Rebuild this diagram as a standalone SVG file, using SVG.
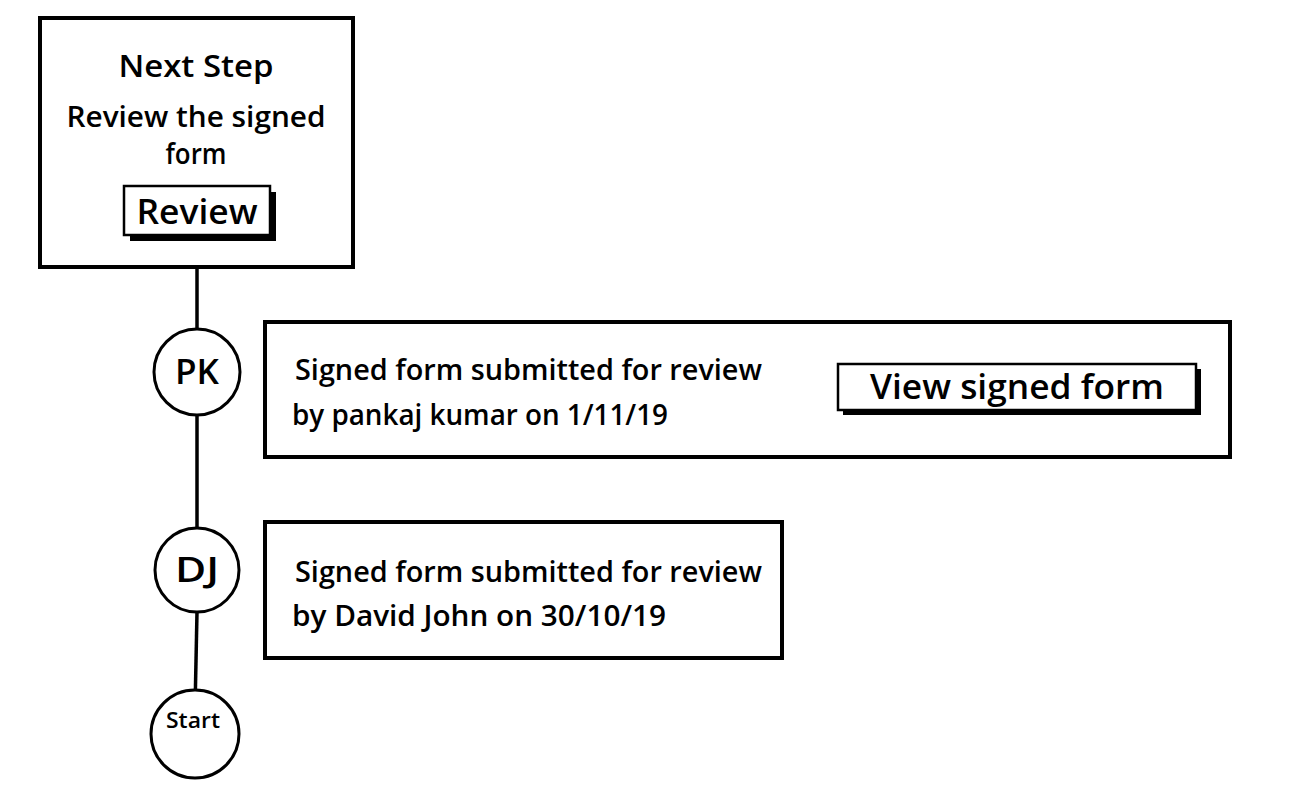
<svg xmlns="http://www.w3.org/2000/svg" width="1296" height="810" viewBox="0 0 1296 810">
<style>
.box{fill:#fff;stroke:#000;stroke-width:4}
.btn{fill:#fff;stroke:#000;stroke-width:2.5}
.sh{fill:#000}
.ln{stroke:#000;stroke-width:3.5;fill:none}
.c{fill:#fff;stroke:#000;stroke-width:3}
text{font-family:"Open Sans","Liberation Sans",sans-serif;fill:#000;font-weight:600}
.m{text-anchor:middle}
</style>
<rect width="1296" height="810" fill="#fff"/>
<g id="connectors">
<line class="ln" x1="197" y1="267" x2="197" y2="330"/>
<line class="ln" x1="197" y1="414" x2="197" y2="528"/>
<line class="ln" x1="197" y1="612" x2="195" y2="710"/>
</g>
<g id="next-step">
<rect class="box" x="40" y="18" width="313" height="249"/>
<text class="m" x="196" y="77" font-size="31" textLength="155" lengthAdjust="spacingAndGlyphs">Next Step</text>
<text class="m" x="196" y="127" font-size="28" textLength="259" lengthAdjust="spacingAndGlyphs">Review the signed</text>
<text class="m" x="196" y="164" font-size="28" textLength="61" lengthAdjust="spacingAndGlyphs">form</text>
<g id="review-btn">
<rect class="sh" x="130" y="192" width="146" height="49"/>
<rect class="btn" x="124" y="186" width="146" height="49"/>
<text class="m" x="197" y="224" font-size="34" textLength="121" lengthAdjust="spacingAndGlyphs">Review</text>
</g>
</g>
<g id="pk">
<circle class="c" cx="197" cy="372" r="43"/>
<text class="m" x="197" y="384" font-size="34" textLength="44" lengthAdjust="spacingAndGlyphs">PK</text>
</g>
<g id="dj">
<circle class="c" cx="197" cy="570" r="42"/>
<text class="m" x="197" y="582" font-size="34" textLength="44" lengthAdjust="spacingAndGlyphs">DJ</text>
</g>
<g id="start">
<circle class="c" cx="195" cy="734" r="44"/>
<text class="m" x="193" y="728" font-size="21" textLength="54" lengthAdjust="spacingAndGlyphs">Start</text>
</g>
<g id="event-pk">
<rect class="box" x="265" y="322" width="965" height="135"/>
<text x="295" y="380" font-size="28" textLength="467" lengthAdjust="spacingAndGlyphs">Signed form submitted for review</text>
<text x="292" y="425" font-size="28" textLength="376" lengthAdjust="spacingAndGlyphs">by pankaj kumar on 1/11/19</text>
<g id="view-btn">
<rect class="sh" x="843" y="369" width="358" height="46"/>
<rect class="btn" x="838" y="364" width="358" height="46"/>
<text class="m" x="1017" y="399" font-size="35" textLength="294" lengthAdjust="spacingAndGlyphs">View signed form</text>
</g>
</g>
<g id="event-dj">
<rect class="box" x="265" y="522" width="517" height="136"/>
<text x="295" y="582" font-size="28" textLength="467" lengthAdjust="spacingAndGlyphs">Signed form submitted for review</text>
<text x="292" y="626" font-size="28" textLength="374" lengthAdjust="spacingAndGlyphs">by David John on 30/10/19</text>
</g>
</svg>
